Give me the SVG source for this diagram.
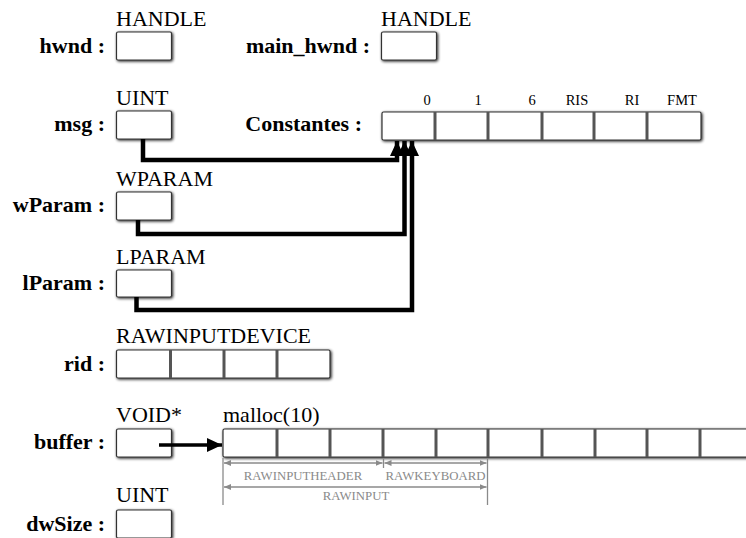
<svg xmlns="http://www.w3.org/2000/svg" width="746" height="538" viewBox="0 0 746 538" font-family="Liberation Serif, DejaVu Serif, serif">
<style>
.lbl{font-weight:bold;font-size:22px;fill:#000;text-anchor:end}
.typ{font-size:22px;fill:#000}
.idx{font-size:14.5px;fill:#000;text-anchor:middle}
.dim{font-size:12.8px;fill:#8a8a8a;text-anchor:middle}
.box{fill:#fff;stroke:#333;stroke-width:1.2;filter:url(#sh)}
.div{stroke:#555;stroke-width:3}
.wire{fill:none;stroke:#000;stroke-width:4.5}
.dl{stroke:#8a8a8a;stroke-width:1.3;fill:none}
</style>
<defs>
<filter id="sh" x="-20%" y="-30%" width="140%" height="160%">
<feGaussianBlur in="SourceAlpha" stdDeviation="1.4" result="b"/>
<feOffset dx="0.5" dy="0.8" in="b" result="o"/>
<feComponentTransfer in="o" result="s"><feFuncA type="linear" slope="0.9"/></feComponentTransfer>
<feMerge><feMergeNode in="s"/><feMergeNode in="SourceGraphic"/></feMerge>
</filter>
<marker id="ah" markerUnits="userSpaceOnUse" markerWidth="16" markerHeight="16" viewBox="0 0 16 16" refX="15" refY="8" orient="auto">
<path d="M0,1 L15,8 L0,15 Z" fill="#000"/>
</marker>
<marker id="da" markerUnits="userSpaceOnUse" markerWidth="8" markerHeight="8" viewBox="0 0 8 8" refX="7" refY="4" orient="auto-start-reverse">
<path d="M0,1 L7,4 L0,7 Z" fill="#8a8a8a"/>
</marker>
</defs>

<g id="hwnd">
<text class="typ" x="116" y="26" font-family="Liberation Serif">HANDLE</text>
<text class="lbl" x="105" y="53" font-family="Liberation Serif">hwnd :</text>
<rect class="box" x="116.5" y="32" width="55" height="28" rx="1.5"/>
</g>
<g id="main_hwnd">
<text class="typ" x="381" y="26">HANDLE</text>
<text class="lbl" x="370" y="53">main_hwnd :</text>
<rect class="box" x="381.5" y="32" width="55" height="28" rx="1.5"/>
</g>
<g id="msg">
<text class="typ" x="116" y="105">UINT</text>
<text class="lbl" x="105" y="131">msg :</text>
<rect class="box" x="116.5" y="111" width="55" height="28" rx="1.5"/>
</g>
<g id="constantes">
<text class="lbl" x="362" y="131">Constantes :</text>
<rect class="box" x="382" y="112" width="319" height="28" rx="1.5"/>
<line class="div" x1="435" y1="112" x2="435" y2="140"/>
<line class="div" x1="488" y1="112" x2="488" y2="140"/>
<line class="div" x1="542" y1="112" x2="542" y2="140"/>
<line class="div" x1="594" y1="112" x2="594" y2="140"/>
<line class="div" x1="647" y1="112" x2="647" y2="140"/>
<text class="idx" x="427" y="105">0</text>
<text class="idx" x="478" y="105">1</text>
<text class="idx" x="532" y="105">6</text>
<text class="idx" x="577" y="105">RIS</text>
<text class="idx" x="632" y="105">RI</text>
<text class="idx" x="682" y="105">FMT</text>
</g>
<g id="wParam">
<text class="typ" x="116" y="186">WPARAM</text>
<text class="lbl" x="105" y="212">wParam :</text>
<rect class="box" x="116.5" y="192" width="55" height="28" rx="1.5"/>
</g>
<g id="lParam">
<text class="typ" x="116" y="264">LPARAM</text>
<text class="lbl" x="105" y="290">lParam :</text>
<rect class="box" x="116.5" y="270" width="55" height="27" rx="1.5"/>
</g>
<g id="rid">
<text class="typ" x="116" y="343">RAWINPUTDEVICE</text>
<text class="lbl" x="105" y="371">rid :</text>
<rect class="box" x="116.5" y="350" width="213.5" height="28" rx="1.5"/>
<line class="div" x1="170.5" y1="350" x2="170.5" y2="378"/>
<line class="div" x1="224" y1="350" x2="224" y2="378"/>
<line class="div" x1="277" y1="350" x2="277" y2="378"/>
</g>
<g id="buffer">
<text class="typ" x="116" y="422">VOID*</text>
<text class="lbl" x="105" y="449">buffer :</text>
<rect class="box" x="116.5" y="429" width="55" height="28" rx="1.5"/>
</g>
<g id="malloc">
<text class="typ" x="223" y="422">malloc(10)</text>
<rect class="box" x="223" y="429" width="540" height="28" rx="1.5"/>
<line class="div" x1="277" y1="429" x2="277" y2="457"/>
<line class="div" x1="330" y1="429" x2="330" y2="457"/>
<line class="div" x1="383" y1="429" x2="383" y2="457"/>
<line class="div" x1="436" y1="429" x2="436" y2="457"/>
<line class="div" x1="488" y1="429" x2="488" y2="457"/>
<line class="div" x1="542" y1="429" x2="542" y2="457"/>
<line class="div" x1="595" y1="429" x2="595" y2="457"/>
<line class="div" x1="647" y1="429" x2="647" y2="457"/>
<line class="div" x1="700" y1="429" x2="700" y2="457"/>
</g>
<g id="dimensions">
<line class="dl" x1="223" y1="458" x2="223" y2="505"/>
<line class="dl" x1="487.5" y1="458" x2="487.5" y2="505"/>
<line class="dl" x1="383.5" y1="458" x2="383.5" y2="468"/>
<line class="dl" x1="224" y1="463" x2="382.5" y2="463" marker-start="url(#da)" marker-end="url(#da)"/>
<line class="dl" x1="384.5" y1="463" x2="486.5" y2="463" marker-start="url(#da)" marker-end="url(#da)"/>
<line class="dl" x1="224" y1="487" x2="486.5" y2="487" marker-start="url(#da)" marker-end="url(#da)"/>
<text class="dim" x="303" y="480">RAWINPUTHEADER</text>
<text class="dim" x="435.5" y="480">RAWKEYBOARD</text>
<text class="dim" x="356" y="500">RAWINPUT</text>
</g>
<g id="dwSize">
<text class="typ" x="116" y="502">UINT</text>
<text class="lbl" x="105" y="531">dwSize :</text>
<rect class="box" x="116.5" y="510" width="55" height="28" rx="1.5"/>
</g>
<g id="connectors">
<path class="wire" d="M143,139 V160 H397 V141" marker-end="url(#ah)"/>
<path class="wire" d="M138,220 V234 H404.5 V141" marker-end="url(#ah)"/>
<path class="wire" d="M136.5,297 V310 H412 V141" marker-end="url(#ah)"/>
<path class="wire" style="stroke-width:3.5" d="M159,445 H222" marker-end="url(#ah)"/>
</g>
</svg>
